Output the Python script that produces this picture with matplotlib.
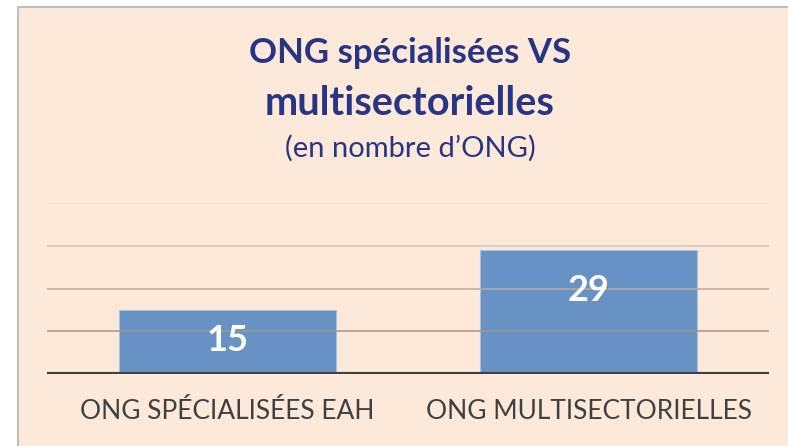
import matplotlib.pyplot as plt
from matplotlib.patches import Rectangle

# Data
categories = ["ONG SPÉCIALISÉES EAH", "ONG MULTISECTORIELLES"]
values = [15, 29]
grid_values = [10, 20, 30, 40]

plt.rcParams['font.family'] = ['Lato', 'DejaVu Sans']

fig = plt.figure(figsize=(7.88, 4.46), dpi=100)
bg = '#FDE9DA'

# chart frame (cropped at right/bottom like the original)
fig.patches.append(Rectangle((18 / 788, -0.05), 1.0, 1 - 7 / 446 + 0.05,
                             transform=fig.transFigure, facecolor=bg,
                             edgecolor='#BFBFBF', linewidth=1.5, zorder=-5))

ax = fig.add_axes([47 / 788, (446 - 374) / 446, 722 / 788, 171 / 446])
ax.set_facecolor('none')
ax.set_zorder(2)

x = range(len(categories))
ax.bar(x, values, width=0.6, color='#6891C4', edgecolor='#A8C2E2',
       linewidth=0.8, zorder=2)

# gridlines fade from dark (bottom) to light (top)
grid_colors = ['#A3968C', '#B8ABA0', '#D6C7BB', '#E8DBD0']
for g, c in zip(grid_values, grid_colors):
    ax.axhline(g, color=c, linewidth=1.3, zorder=3, alpha=0.85)
ax.axhline(0, color='#404040', linewidth=3, zorder=4)

# data labels inside bars
label_frac = [0.53, 0.67]
for i, v in enumerate(values):
    ax.text(i, v * label_frac[i], str(v), ha='center', va='center',
            color='white', fontsize=26, fontweight='bold', zorder=5)

ax.set_xlim(-0.5, 1.5)
ax.set_ylim(0, 40)
ax.set_xticks(list(x))
ax.set_xticklabels(categories, fontsize=19, color='#404040')
ax.tick_params(axis='x', length=0, pad=18)
ax.set_yticks([])
for s in ax.spines.values():
    s.set_visible(False)

# titles
cx = 410 / 788
fig.text(cx, 1 - 63 / 446, "ONG spécialisées VS", ha='center', va='baseline',
         fontsize=25, fontweight='bold', color='#283583')
fig.text(cx, 1 - 115 / 446, "multisectorielles", ha='center', va='baseline',
         fontsize=28.5, fontweight='bold', color='#283583')
fig.text(cx, 1 - 157 / 446, "(en nombre d’ONG)", ha='center', va='baseline',
         fontsize=21, color='#283583')

fig.savefig('out.png', dpi=100, facecolor='white')
